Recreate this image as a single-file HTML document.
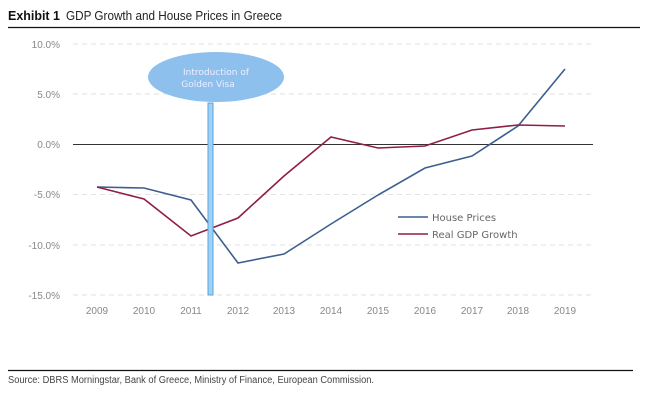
<!DOCTYPE html>
<html><head><style>body{margin:0;background:#fff;}svg{display:block}</style></head>
<body>
<svg width="647" height="406" xmlns="http://www.w3.org/2000/svg" font-family="Liberation Sans, sans-serif">
<text x="8" y="20" font-size="13" font-weight="bold" fill="#111" textLength="52" lengthAdjust="spacingAndGlyphs">Exhibit 1</text>
<text x="66" y="20" font-size="13" fill="#222" textLength="216" lengthAdjust="spacingAndGlyphs">GDP Growth and House Prices in Greece</text>
<line x1="8" y1="27.5" x2="640" y2="27.5" stroke="#111" stroke-width="1.2"/>
<g stroke="#e2e2e2" stroke-dasharray="5,4" stroke-width="1">
<line x1="73" y1="44" x2="593" y2="44"/><line x1="73" y1="94" x2="593" y2="94"/>
<line x1="73" y1="194.5" x2="593" y2="194.5"/><line x1="73" y1="245" x2="593" y2="245"/>
<line x1="73" y1="295" x2="593" y2="295"/></g>
<line x1="73" y1="144.5" x2="593" y2="144.5" stroke="#333" stroke-width="1"/>
<g font-size="10" fill="#888" text-anchor="end">
<text x="60" y="48">10.0%</text><text x="60" y="98">5.0%</text><text x="60" y="148">0.0%</text>
<text x="60" y="198">-5.0%</text><text x="60" y="249">-10.0%</text><text x="60" y="299">-15.0%</text></g>
<g font-size="10" fill="#888" text-anchor="middle">
<text x="97" y="314">2009</text><text x="144" y="314">2010</text><text x="191" y="314">2011</text><text x="238" y="314">2012</text><text x="284" y="314">2013</text><text x="331" y="314">2014</text><text x="378" y="314">2015</text><text x="425" y="314">2016</text><text x="472" y="314">2017</text><text x="518" y="314">2018</text><text x="565" y="314">2019</text></g>
<polyline fill="none" stroke="#3d5f8f" stroke-width="1.6" points="97,187 144,188 191,200 238,263 284,254 331,224 378,195 425,168 472,156 518,126 565,69"/>
<polyline fill="none" stroke="#8e1e4a" stroke-width="1.6" points="97,187 144,199 191,236 238,218 284,176 331,137 378,148 425,146 472,130 518,125 565,126"/>
<rect x="208" y="103" width="5" height="192" fill="#9fd0f5" stroke="#5aa3df" stroke-width="1"/>
<ellipse cx="216" cy="77" rx="68" ry="25" fill="#8ec0ee"/>
<text x="216" y="75" font-size="9" fill="#eef" text-anchor="middle" font-family="DejaVu Sans, sans-serif">Introduction of</text>
<text x="208" y="87" font-size="9" fill="#eef" text-anchor="middle" font-family="DejaVu Sans, sans-serif">Golden Visa</text>
<line x1="398" y1="217" x2="428" y2="217" stroke="#3d5f8f" stroke-width="1.6"/>
<line x1="398" y1="234" x2="428" y2="234" stroke="#8e1e4a" stroke-width="1.6"/>
<text x="432" y="221" font-size="10" fill="#666" font-family="DejaVu Sans, sans-serif">House Prices</text>
<text x="432" y="238" font-size="10" fill="#666" font-family="DejaVu Sans, sans-serif">Real GDP Growth</text>
<line x1="8" y1="370.5" x2="633" y2="370.5" stroke="#111" stroke-width="1.2"/>
<text x="8" y="383" font-size="10" fill="#444" textLength="366" lengthAdjust="spacingAndGlyphs">Source: DBRS Morningstar, Bank of Greece, Ministry of Finance, European Commission.</text>
</svg>
</body></html>
